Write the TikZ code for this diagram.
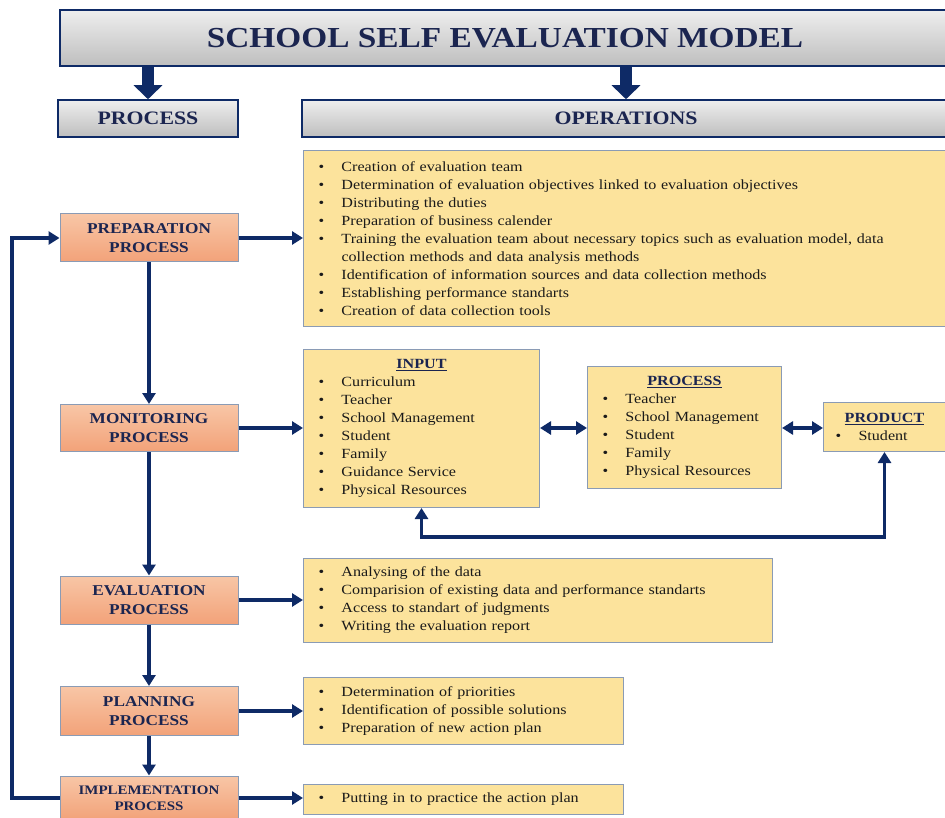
\documentclass[tikz,border=0pt]{standalone}
\usepackage{fontspec}
\setmainfont{Liberation Serif}[FakeStretch=1.15]
\usetikzlibrary{arrows.meta}
\definecolor{navy}{HTML}{0E2A66}
\definecolor{navytext}{HTML}{1B2550}
\definecolor{opsfill}{HTML}{FCE39C}
\definecolor{opsborder}{HTML}{8A9BB5}
\definecolor{salmontop}{HTML}{F8C6A6}
\definecolor{salmonbot}{HTML}{F2A279}
\definecolor{graytop}{HTML}{EEEEEE}
\definecolor{graybot}{HTML}{BEBEBE}
\definecolor{listtext}{HTML}{1A1A1A}
\newcommand{\itm}[1]{\makebox[23pt][l]{\textbullet}#1}
\begin{document}
\begin{tikzpicture}[x=1pt,y=-1pt,
  hdr/.style={draw=navy, line width=1.5pt, top color=graytop, bottom color=graybot, text=navytext, inner sep=0pt},
  proc/.style={draw=opsborder, line width=1pt, top color=salmontop, bottom color=salmonbot, text=navytext, font=\bfseries\fontsize{15}{19}\selectfont, align=center, minimum width=178pt, inner sep=0pt},
  ops/.style={draw=opsborder, line width=1pt, fill=opsfill, align=left, font=\fontsize{14}{18}\selectfont, anchor=north west, inner xsep=15pt, inner ysep=0pt, text=listtext},
  flow/.style={draw=navy, line width=3.5pt, -{Triangle[width=13pt,length=11pt]}},
  both/.style={draw=navy, line width=3.5pt, {Triangle[width=13pt,length=11pt]}-{Triangle[width=13pt,length=11pt]}},
  big/.style={draw=navy, line width=12pt, -{Triangle[width=28pt,length=14pt]}}
]
\useasboundingbox (0,0) rectangle (945,818);

% headers
\node[hdr, minimum width=890pt, minimum height=56pt, font=\bfseries\fontsize{29}{32}\selectfont] (title) at (505,38) {SCHOOL SELF EVALUATION MODEL};
\node[hdr, minimum width=180pt, minimum height=37pt, font=\bfseries\fontsize{19}{21}\selectfont] (prochdr) at (148,118.5) {PROCESS};
\node[hdr, minimum width=648pt, minimum height=37pt, font=\bfseries\fontsize{19}{21}\selectfont] (opshdr) at (626,118.5) {OPERATIONS};

\draw[big] (title.south -| prochdr) -- (prochdr.north);
\draw[big] (title.south -| opshdr) -- (opshdr.north);

% process column
\node[proc, minimum height=48pt] (prep) at (149,238) {PREPARATION\\PROCESS};
\node[proc, minimum height=47pt] (mon) at (149,428) {MONITORING\\PROCESS};
\node[proc, minimum height=48pt] (eval) at (149,600) {EVALUATION\\PROCESS};
\node[proc, minimum height=49pt] (plan) at (149,711) {PLANNING\\PROCESS};
\node[proc, minimum height=44pt, font=\bfseries\fontsize{13}{16}\selectfont] (impl) at (149,798) {IMPLEMENTATION\\PROCESS};

% operations
\node[ops, text width=612pt, minimum height=176pt] (prepops) at (303,150) {%
\itm{Creation of evaluation team}\\
\itm{Determination of evaluation objectives linked to evaluation objectives}\\
\itm{Distributing the duties}\\
\itm{Preparation of business calender}\\
\itm{Training the evaluation team about necessary topics such as evaluation model, data}\\
\hspace*{23pt}collection methods and data analysis methods\\
\itm{Identification of information sources and data collection methods}\\
\itm{Establishing performance standarts}\\
\itm{Creation of data collection tools}};

\node[ops, text width=206pt, minimum height=158pt] (input) at (303,349) {%
\makebox[\linewidth]{\textcolor{navytext}{\textbf{\underline{INPUT}}}}\\
\itm{Curriculum}\\
\itm{Teacher}\\
\itm{School Management}\\
\itm{Student}\\
\itm{Family}\\
\itm{Guidance Service}\\
\itm{Physical Resources}};

\node[ops, text width=164pt, minimum height=122pt] (procbox) at (587,366) {%
\makebox[\linewidth]{\textcolor{navytext}{\textbf{\underline{PROCESS}}}}\\
\itm{Teacher}\\
\itm{School Management}\\
\itm{Student}\\
\itm{Family}\\
\itm{Physical Resources}};

\node[ops, text width=98pt, inner xsep=12pt, minimum height=49pt] (product) at (823,402) {%
\makebox[\linewidth]{\textcolor{navytext}{\textbf{\underline{PRODUCT}}}}\\
\itm{Student}};

\node[ops, text width=439pt, minimum height=84pt] (evalops) at (303,558) {%
\itm{Analysing of the data}\\
\itm{Comparision of existing data and performance standarts}\\
\itm{Access to standart of judgments}\\
\itm{Writing the evaluation report}};

\node[ops, text width=290pt, minimum height=67pt] (planops) at (303,677) {%
\itm{Determination of priorities}\\
\itm{Identification of possible solutions}\\
\itm{Preparation of new action plan}};

\node[ops, text width=290pt, minimum height=30pt] (implops) at (303,784) {%
\itm{Putting in to practice the action plan}};

% connectors
\draw[flow] (prep.east) -- (prep.east -| prepops.west);
\draw[flow] (mon.east) -- (mon.east -| input.west);
\draw[flow] (eval.east) -- (eval.east -| evalops.west);
\draw[flow] (plan.east) -- (plan.east -| planops.west);
\draw[flow] (impl.east) -- (impl.east -| implops.west);

\draw[flow] (prep.south) -- (mon.north);
\draw[flow] (mon.south) -- (eval.north);
\draw[flow] (eval.south) -- (plan.north);
\draw[flow] (plan.south) -- (impl.north);

\coordinate (loopx) at (12,0);
\draw[flow] (impl.west) -- (impl.west -| loopx) |- (prep.west);

\draw[both] (input.east |- 0,428) -- (procbox.west |- 0,428);
\draw[both] (procbox.east |- 0,428) -- (product.west |- 0,428);

\coordinate (lb) at (0,537);
\draw[both] (input.south) -- (input.south |- lb) -| (product.south);
\end{tikzpicture}
\end{document}
